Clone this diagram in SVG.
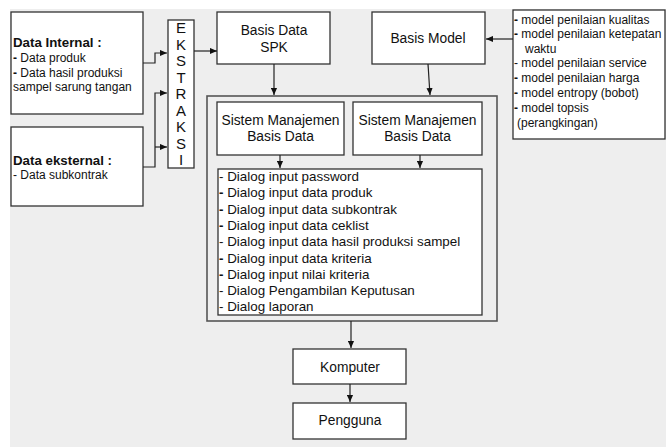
<svg xmlns="http://www.w3.org/2000/svg" width="666" height="447" viewBox="0 0 666 447">
<defs>
<marker id="ah" viewBox="0 0 8 8" refX="8" refY="4" markerWidth="7" markerHeight="7" markerUnits="userSpaceOnUse" orient="auto"><path d="M0,0.5 L8,4 L0,7.5 Z" fill="#111"/></marker>
<style>
.bx{fill:#fff;stroke:#333;stroke-width:1.3}
.ct{fill:#eeeeee;stroke:#555;stroke-width:1.6}
.t{font-family:"Liberation Sans",Arial,sans-serif;fill:#111}
.c{text-anchor:middle;font-size:13.8px}
.b{font-weight:bold;font-size:13.3px}
.s{font-size:12px}
.d{font-size:13.4px}
.m{font-size:12px}
.k{font-size:15px;text-anchor:middle}
.ln{fill:none;stroke:#222;stroke-width:1.2}
</style>
</defs>
<rect x="0" y="0" width="666" height="447" fill="#fff"/>
<rect x="10" y="9" width="656" height="438" fill="#eeeeee"/>

<g id="container"><rect class="ct" x="207" y="96" width="290" height="225"/></g>

<g id="data-internal">
<rect class="bx" x="11" y="12" width="132" height="102"/>
<text class="t b" x="13" y="47">Data Internal :</text>
<text class="t s" x="13" y="62"><tspan font-weight="bold">-</tspan> Data produk</text>
<text class="t s" x="13" y="77"><tspan font-weight="bold">-</tspan> Data  hasil produksi</text>
<text class="t s" x="13" y="91">sampel  sarung tangan</text>
</g>

<g id="data-eksternal">
<rect class="bx" x="11" y="127" width="132" height="79"/>
<text class="t b" x="13" y="165">Data eksternal :</text>
<text class="t s" x="13" y="179">-  Data subkontrak</text>
</g>

<g id="ekstraksi">
<rect class="bx" x="168" y="20" width="26" height="148"/>
<text class="t k" x="181" y="33">E</text>
<text class="t k" x="181" y="49.5">K</text>
<text class="t k" x="181" y="66">S</text>
<text class="t k" x="181" y="82.5">T</text>
<text class="t k" x="181" y="99">R</text>
<text class="t k" x="181" y="115.5">A</text>
<text class="t k" x="181" y="132">K</text>
<text class="t k" x="181" y="148.5">S</text>
<text class="t k" x="181" y="165">I</text>
</g>

<g id="basis-data-spk">
<rect class="bx" x="217" y="12" width="113" height="52"/>
<text class="t c" x="274" y="35">Basis Data</text>
<text class="t c" x="274" y="52">SPK</text>
</g>

<g id="basis-model">
<rect class="bx" x="372" y="12" width="113" height="52"/>
<text class="t c" x="428" y="43">Basis Model</text>
</g>

<g id="model-list">
<rect class="bx" x="513" y="10" width="152" height="129"/>
<text class="t m" x="514" y="24"><tspan font-weight="bold">-</tspan> model penilaian kualitas</text>
<text class="t m" x="514" y="38"><tspan font-weight="bold">-</tspan> model penilaian ketepatan</text>
<text class="t m" x="525" y="52.5">waktu</text>
<text class="t m" x="514" y="67">- model penilaian service</text>
<text class="t m" x="514" y="82"><tspan font-weight="bold">-</tspan> model penilaian harga</text>
<text class="t m" x="514" y="97"><tspan font-weight="bold">-</tspan> model entropy (bobot)</text>
<text class="t m" x="514" y="112"><tspan font-weight="bold">-</tspan> model topsis</text>
<text class="t m" x="517" y="126.5">(perangkingan)</text>
</g>

<g id="smbd-1">
<rect class="bx" x="217" y="102" width="127" height="53"/>
<text class="t c" x="280.5" y="125">Sistem Manajemen</text>
<text class="t c" x="280.5" y="141">Basis Data</text>
</g>

<g id="smbd-2">
<rect class="bx" x="353" y="102" width="129" height="53"/>
<text class="t c" x="417.5" y="125">Sistem Manajemen</text>
<text class="t c" x="417.5" y="141">Basis Data</text>
</g>

<g id="dialog">
<rect class="bx" x="218" y="169" width="264" height="146"/>
<text class="t d" x="219" y="181">- Dialog input password</text>
<text class="t d" x="219" y="197.3"><tspan font-weight="bold">-</tspan> Dialog input data produk</text>
<text class="t d" x="219" y="213.6"><tspan font-weight="bold">-</tspan> Dialog input data subkontrak</text>
<text class="t d" x="219" y="229.9"><tspan font-weight="bold">-</tspan> Dialog input data ceklist</text>
<text class="t d" x="219" y="246.2">- Dialog input data hasil produksi sampel</text>
<text class="t d" x="219" y="262.5"><tspan font-weight="bold">-</tspan> Dialog  input data kriteria</text>
<text class="t d" x="219" y="278.8"><tspan font-weight="bold">-</tspan> Dialog input nilai kriteria</text>
<text class="t d" x="219" y="295.1">- Dialog Pengambilan Keputusan</text>
<text class="t d" x="219" y="311.4">- Dialog laporan</text>
</g>

<g id="komputer">
<rect class="bx" x="293" y="349" width="113" height="35"/>
<text class="t c" x="350" y="372">Komputer</text>
</g>

<g id="pengguna">
<rect class="bx" x="293" y="403" width="113" height="36"/>
<text class="t c" x="350" y="425">Pengguna</text>
</g>

<g id="connectors">
<path class="ln" d="M143,63 H155 V53 H167" marker-end="url(#ah)"/>
<path class="ln" d="M143,167 H155 V93 H167" marker-end="url(#ah)"/>
<path class="ln" d="M155,147 H167" marker-end="url(#ah)"/>
<path class="ln" d="M194,51 H217" marker-end="url(#ah)"/>
<path class="ln" d="M274,64 V95" marker-end="url(#ah)"/>
<path class="ln" d="M428,64 L430,95" marker-end="url(#ah)"/>
<path class="ln" d="M513,39 H486" marker-end="url(#ah)"/>
<path class="ln" d="M280,155 V168" marker-end="url(#ah)"/>
<path class="ln" d="M420,155 V168" marker-end="url(#ah)"/>
<path class="ln" d="M351,321 V348" marker-end="url(#ah)"/>
<path class="ln" d="M350,384 V402" marker-end="url(#ah)"/>
</g>
</svg>
